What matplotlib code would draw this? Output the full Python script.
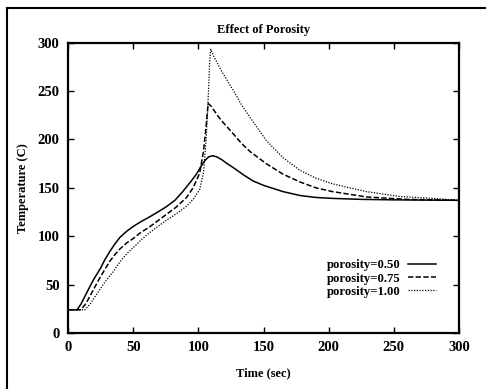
import matplotlib
matplotlib.use("Agg")
import matplotlib.pyplot as plt
from matplotlib.lines import Line2D

plt.rcParams['font.family'] = ['Liberation Serif', 'DejaVu Serif']

title = "Effect of Porosity"
xlabel = "Time (sec)"
ylabel = "Temperature (C)"
labels = ["porosity=0.50", "porosity=0.75", "porosity=1.00"]

t_050 = [0, 7, 10, 13, 16.6, 20, 25, 28, 32, 36, 40, 45, 50, 56, 62.7, 69, 75, 82, 88, 94, 98.5, 102, 105, 108, 111, 114, 118, 122, 126.6, 135, 142, 150, 165, 178, 190, 203, 225, 250, 300]
T_050 = [24, 24, 30, 38, 47.5, 56, 67, 75, 84, 92, 99, 105, 110, 115, 120, 125, 130, 137, 146, 156, 164, 172, 178, 182, 183, 182, 179, 175, 171, 163, 157, 152.5, 146, 142, 140, 139, 138, 137.5, 137]

t_075 = [0, 10, 14, 18, 24, 28, 32, 36, 40, 45, 50, 56, 62, 68, 75, 83, 91, 96, 101, 104, 106, 107.5, 110, 114, 118, 126.6, 133, 140, 152, 165, 178, 190, 203, 229, 260, 300]
T_075 = [24, 24, 31, 41, 56, 65, 74, 81, 87, 93, 97.5, 104, 109, 115, 122, 130, 140, 150, 165, 188, 214, 237, 234, 226, 219, 206, 196, 187, 175, 164, 156, 150, 146, 140.5, 138, 137]

t_100 = [0, 13, 17, 22, 28, 34.5, 38, 42, 46, 50, 56, 62, 68, 75, 83, 91, 96, 101, 104, 106, 107.5, 108.7, 109.5, 112.5, 118, 126.6, 133, 140, 152, 165, 178, 190, 203, 229, 254.5, 280, 300]
T_100 = [24, 24, 30, 40, 52, 63, 70, 77, 83, 88, 96, 103, 109, 116, 123, 131, 138, 148, 166, 200, 240, 280, 293, 284, 270, 251, 236, 222, 199, 181, 168, 160, 154, 146, 141, 139, 137]

fig = plt.figure(figsize=(4.9, 3.89), dpi=100)
ax = fig.add_axes([68/490, 56/389, 391/490, 290.5/389])

kw = dict(color='black', linewidth=1.1)
ax.plot(t_050, T_050, linestyle='-', label=labels[0], **kw)
ax.plot(t_075, T_075, linestyle=(0, (3.5, 1.5)), label=labels[1], **kw)
ax.plot(t_100, T_100, linestyle=(0, (1, 1.2)), linewidth=0.9, color='black', label=labels[2])

ax.set_xlim(0, 300)
ax.set_ylim(0, 300)
ax.set_xticks(range(0, 301, 50))
ax.set_yticks(range(0, 301, 50))
ax.tick_params(direction='in', top=True, right=True, length=4, width=1.0,
               labelsize=10.5, pad=6)
for lab in ax.get_xticklabels() + ax.get_yticklabels():
    lab.set_fontweight('bold')
for s in ax.spines.values():
    s.set_linewidth(1.6)

ax.set_title(title, fontsize=9, fontweight='bold', pad=7)
ax.set_xlabel(xlabel, fontsize=9, fontweight='bold', labelpad=9)
ax.set_ylabel(ylabel, fontsize=9, fontweight='bold', labelpad=6)

leg = ax.legend(loc='lower right', bbox_to_anchor=(0.965, 0.09), frameon=False,
                markerfirst=False, fontsize=9.2, handlelength=2.2,
                handletextpad=0.6, labelspacing=0.1, borderpad=0.2)
for txt in leg.get_texts():
    txt.set_fontweight('bold')

# outer scanned frame
fig.add_artist(Line2D([7/490, 7/490], [0, 1 - 8/389], transform=fig.transFigure,
                      color='black', linewidth=1.5))
fig.add_artist(Line2D([7/490, 485/490], [1 - 8/389, 1 - 8/389], transform=fig.transFigure,
                      color='black', linewidth=1.5))

fig.savefig("out.png", dpi=100)
